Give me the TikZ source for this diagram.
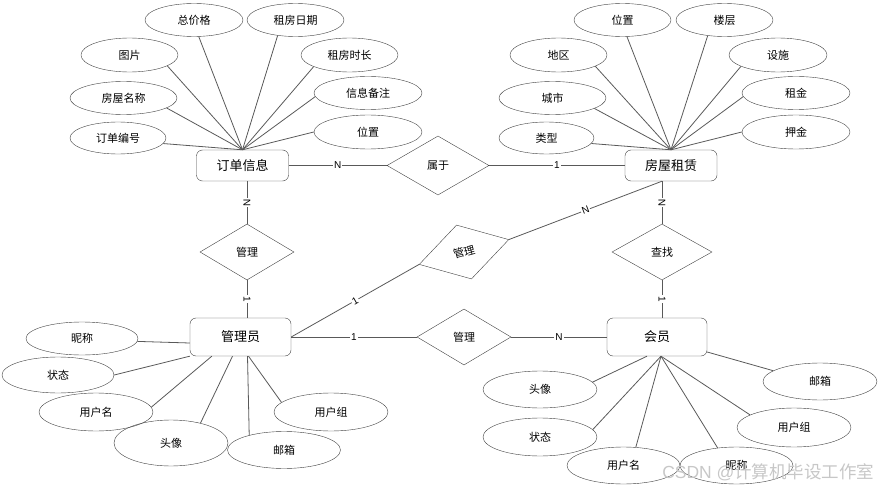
\documentclass[tikz,border=0pt]{standalone}
\usepackage{fontspec}
\setmainfont{Liberation Sans}
\newfontfamily\cjk{Noto Sans CJK SC}
\usetikzlibrary{shapes.geometric, positioning}

\begin{document}
\begin{tikzpicture}[x=1pt, y=1pt]

\tikzset{
  entity/.style = {rectangle, rounded corners=6pt, minimum width=92pt,
                   minimum height=31pt, inner sep=0pt, draw=black!75,
                   font=\cjk\fontsize{13}{15}\selectfont},
  attrib/.style = {ellipse, minimum width=97pt, minimum height=33pt,
                   inner sep=0pt, draw=black!75,
                   font=\cjk\fontsize{11}{13}\selectfont},
  relat/.style  = {diamond, minimum width=94pt, minimum height=56pt,
                   inner sep=0pt, draw=black!75,
                   font=\cjk\fontsize{11}{13}\selectfont},
  link/.style   = {draw=black!65, line width=0.8pt},
  card/.style   = {fill=white, inner sep=1pt, font=\fontsize{10}{12}\selectfont},
  wmark/.style  = {font=\fontsize{17.5}{20}\selectfont, text=black!22}
}

\useasboundingbox (0,0) rectangle (879,-487);

%% ── Entities ────────────────────────────────────────────────────
\node[entity] (order) at (242.5,-165.5) {订单信息};
\node[entity] (house) at (671,-165.5)   {房屋租赁};
\node[entity, minimum width=101pt, minimum height=38pt] (admin)  at (240.5,-337) {管理员};
\node[entity, minimum width=100pt, minimum height=38pt] (member) at (657,-337)   {会员};

%% ── Relations ───────────────────────────────────────────────────
\node[relat, minimum width=102pt, minimum height=59pt] (belong) at (438,-165.5) {属于};
\node[relat]                     (manageO) at (247,-252) {管理};
\node[relat, minimum width=100pt] (search) at (662,-252) {查找};
\node[relat]                     (manageM) at (464,-337) {管理};
\node[relat, minimum width=93pt, rotate=15.5] (manageH) at (464,-252) {管理};

%% ── Order attributes ────────────────────────────────────────────
\node[attrib, minimum width=98pt]  (tprice) at (194,-20)   {总价格};
\node[attrib]                      (rdate)  at (295.5,-20) {租房日期};
\node[attrib, minimum height=34pt] (pic)    at (129.5,-55) {图片};
\node[attrib, minimum height=34pt] (rlen)   at (349.5,-55) {租房时长};
\node[attrib, minimum width=107pt] (hname)  at (123.5,-98) {房屋名称};
\node[attrib, minimum width=108pt] (note)   at (368,-93)   {信息备注};
\node[attrib, minimum width=96pt, minimum height=32pt]  (ono)  at (118,-138) {订单编号};
\node[attrib, minimum width=108pt, minimum height=34pt] (oloc) at (368,-132) {位置};

%% ── House attributes ────────────────────────────────────────────
\node[attrib]                      (hloc)  at (622.5,-20) {位置};
\node[attrib]                      (floor) at (724.5,-20) {楼层};
\node[attrib, minimum height=34pt] (area)  at (558.5,-55) {地区};
\node[attrib, minimum width=98pt, minimum height=34pt] (facil) at (778,-55) {设施};
\node[attrib, minimum width=107pt] (city)  at (552.5,-98) {城市};
\node[attrib, minimum width=108pt] (rent)  at (796,-93)   {租金};
\node[attrib, minimum width=95pt, minimum height=32pt]  (htype)   at (546.5,-138) {类型};
\node[attrib, minimum width=108pt, minimum height=34pt] (deposit) at (796,-132)   {押金};

%% ── Admin attributes ────────────────────────────────────────────
\node[attrib, minimum width=112pt]                      (anick)   at (82,-338.5) {昵称};
\node[attrib, minimum width=112pt, minimum height=36pt] (astate)  at (58,-375)   {状态};
\node[attrib, minimum width=114pt, minimum height=38pt] (auser)   at (96,-412)   {用户名};
\node[attrib, minimum width=114pt, minimum height=46pt] (aavatar) at (171,-443)  {头像};
\node[attrib, minimum width=113pt, minimum height=37pt] (amail)   at (284,-450)  {邮箱};
\node[attrib, minimum width=114pt, minimum height=38pt] (agroup)  at (331,-412)  {用户组};

%% ── Member attributes ───────────────────────────────────────────
\node[attrib, minimum width=114pt, minimum height=37pt] (mavatar) at (540,-389.5)   {头像};
\node[attrib, minimum width=114pt, minimum height=38pt] (mstate)  at (540,-437)     {状态};
\node[attrib, minimum width=113pt, minimum height=37pt] (muser)   at (623.5,-465.5) {用户名};
\node[attrib, minimum width=113pt, minimum height=37pt] (mnick)   at (736.5,-465.5) {昵称};
\node[attrib, minimum width=114pt, minimum height=39pt] (mgroup)  at (794,-427.5)   {用户组};
\node[attrib, minimum width=114pt, minimum height=37pt] (mmail)   at (820,-381.5)   {邮箱};

%% ── Relationship lines ──────────────────────────────────────────
\draw[link] (order)  -- node[card] {N} (belong);
\draw[link] (belong) -- node[card] {1} (house);
\draw[link] (manageO.north) -- node[card, sloped] {N} (manageO.north |- order.south);
\draw[link] (manageO.south) -- node[card, sloped] {1} (manageO.south |- admin.north);
\draw[link] (search.north)  -- node[card, sloped] {N} (search.north |- house.south);
\draw[link] (search.south)  -- node[card, sloped] {1} (search.south |- member.north);
\draw[link] (admin)   -- node[card] {1} (manageM);
\draw[link] (manageM) -- node[card] {N} (member);
\draw[link] (admin.east)    -- node[card, sloped] {1} (manageH.west);
\draw[link] (manageH.east)  -- node[card, sloped] {N} (search.north |- house.south);

%% ── Attribute lines: order ──────────────────────────────────────
\draw[link] (order.north) -- (tprice.286);
\draw[link] (order.north) -- (rdate.221);
\draw[link] (order.north) -- (pic.344);
\draw[link] (order.north) -- (rlen.198);
\draw[link] (order.north) -- (hname.347);
\draw[link] (order.north) -- (note.184);
\draw[link] (order.north) -- (ono.353);
\draw[link] (order.north) -- (oloc.west);

%% ── Attribute lines: house ──────────────────────────────────────
\draw[link] (house.north) -- (hloc.285);
\draw[link] (house.north) -- (floor.223);
\draw[link] (house.north) -- (area.343);
\draw[link] (house.north) -- (facil.197);
\draw[link] (house.north) -- (city.346);
\draw[link] (house.north) -- (rent.184);
\draw[link] (house.north) -- (htype.353);
\draw[link] (house.north) -- (deposit.west);

%% ── Attribute lines: admin ──────────────────────────────────────
\draw[link] ([yshift=-6pt]admin.west)       -- (anick.357);
\draw[link] (admin.south west)              -- (astate.east);
\draw[link] ([xshift=22pt]admin.south west) -- (auser.5);
\draw[link] ([xshift=-8pt]admin.south)      -- (aavatar.34);
\draw[link] ([xshift=7pt]admin.south)       -- (amail.157);
\draw[link] ([xshift=8pt]admin.south)       -- (agroup.169);

%% ── Attribute lines: member ─────────────────────────────────────
\draw[link] ([xshift=-10pt]member.south)    -- (mavatar.8);
\draw[link] ([xshift=4pt]member.south)      -- (mstate.8);
\draw[link] ([xshift=4pt]member.south)      -- (muser.56);
\draw[link] ([xshift=4pt]member.south)      -- (mnick.137);
\draw[link] ([xshift=4pt]member.south)      -- (mgroup.164);
\draw[link] ([yshift=-15pt]member.east)     -- (mmail.167);

%% ── Watermark ───────────────────────────────────────────────────
\node[wmark, anchor=east] (mark) at (878,-472) {CSDN @{\cjk 计算机毕设工作室}};

\end{tikzpicture}
\end{document}
